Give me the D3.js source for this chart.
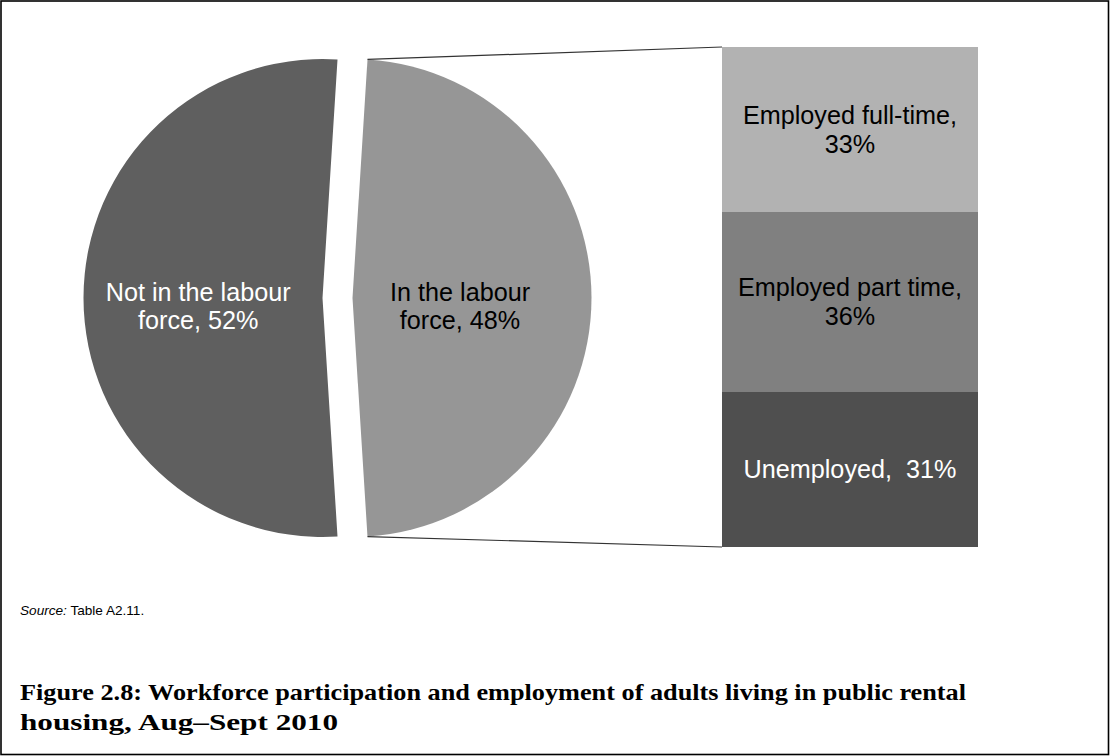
<!DOCTYPE html>
<html>
<head>
<meta charset="utf-8">
<script src="https://cdn.jsdelivr.net/npm/d3@7/dist/d3.min.js"></script>
<style>
  html, body { margin: 0; padding: 0; background: #fff; }
  svg { display: block; }
  text { white-space: pre; }
</style>
</head>
<body>
<svg id="chart" width="1110" height="756"></svg>
<script>
// Workforce participation (pie) and breakdown of the labour force (stacked bar)
const pieCategories = ["In the labour force", "Not in the labour force"];
const pieValues = [48, 52];
const pieLabelLines = [["In the labour", "force, 48%"], ["Not in the labour", "force, 52%"]];

const barCategories = ["Unemployed", "Employed part time", "Employed full-time"];
const barValues = [31, 36, 33];
const barLabelLines = [["Unemployed,  31%"], ["Employed part time,", "36%"], ["Employed full-time,", "33%"]];

const sourceItalic = "Source:";
const sourceText = " Table A2.11.";
const titleLines = [
  "Figure 2.8: Workforce participation and employment of adults living in public rental",
  "housing, Aug\u2013Sept 2010"
];

const svg = d3.select("#chart");
const W = 1110, H = 756;

// outer frame
svg.append("rect")
  .attr("x", 1).attr("y", 1).attr("width", W - 2.5).attr("height", H - 2.5)
  .attr("fill", "none").attr("stroke", "#000").attr("stroke-width", 1.6);

// ---- pie ----
const cx = 337.5, cy = 298, R = 239, explode = 15;
const pieColors = ["#969696", "#5f5f5f"];
const pieText = ["#000", "#fff"];
const labelFrac = [0.45, 0.52];
const labelFont = 25.2;

const firstShare = pieValues[0] / d3.sum(pieValues);
const start = Math.PI / 2 - firstShare * Math.PI;   // centre the first slice on the right
const pie = d3.pie().sort(null).startAngle(start).endAngle(start + 2 * Math.PI);
const arcs = pie(pieValues);
const arc = d3.arc().innerRadius(0).outerRadius(R);

const slices = svg.append("g").selectAll("g")
  .data(arcs).join("g")
  .attr("transform", d => {
    const mid = (d.startAngle + d.endAngle) / 2;
    return `translate(${cx + explode * Math.sin(mid)},${cy - explode * Math.cos(mid)})`;
  });

slices.append("path")
  .attr("d", arc)
  .attr("fill", (d, i) => pieColors[i]);

slices.append("text")
  .attr("font-family", "Liberation Sans, Arial, sans-serif")
  .attr("font-size", labelFont)
  .attr("text-anchor", "middle")
  .attr("fill", (d, i) => pieText[i])
  .each(function(d, i) {
    const mid = (d.startAngle + d.endAngle) / 2;
    const lx = R * labelFrac[i] * Math.sin(mid);
    const ly = -R * labelFrac[i] * Math.cos(mid);
    d3.select(this).selectAll("tspan")
      .data(pieLabelLines[i]).join("tspan")
      .attr("x", lx)
      .attr("y", (t, j) => ly + 2.5 + j * 28)
      .text(t => t);
  });

// ---- stacked bar ----
const barX0 = 722, barX1 = 978;
const y = d3.scaleLinear().domain([0, d3.sum(barValues)]).range([547, 47]);
const barColors = ["#4f4f4f", "#808080", "#b2b2b2"];
const barText = ["#fff", "#000", "#000"];
let cum = 0;
const segs = barValues.map((v, i) => { const s = { i, y0: cum, y1: cum + v }; cum += v; return s; });

const bar = svg.append("g");
bar.selectAll("rect").data(segs).join("rect")
  .attr("x", barX0).attr("width", barX1 - barX0)
  .attr("y", d => y(d.y1)).attr("height", d => y(d.y0) - y(d.y1))
  .attr("fill", d => barColors[d.i]);

bar.selectAll("text").data(segs).join("text")
  .attr("font-family", "Liberation Sans, Arial, sans-serif")
  .attr("font-size", labelFont)
  .attr("text-anchor", "middle")
  .attr("fill", d => barText[d.i])
  .each(function(d) {
    const lines = barLabelLines[d.i];
    const midY = (y(d.y0) + y(d.y1)) / 2;
    const lh = 29;
    const firstBase = midY + 8.5 - (lines.length - 1) * lh / 2;
    d3.select(this).selectAll("tspan").data(lines).join("tspan")
      .attr("x", (barX0 + barX1) / 2)
      .attr("y", (t, j) => firstBase + j * lh)
      .text(t => t);
  });

// ---- connector lines from the labour-force slice to the bar ----
const lf = arcs[0];
const lfCx = cx + explode * Math.sin((lf.startAngle + lf.endAngle) / 2);
const lfCy = cy - explode * Math.cos((lf.startAngle + lf.endAngle) / 2);
const corner = a => [lfCx + R * Math.sin(a), lfCy - R * Math.cos(a)];
const topC = corner(lf.startAngle), botC = corner(lf.endAngle);
svg.append("line")
  .attr("x1", topC[0]).attr("y1", topC[1]).attr("x2", barX0).attr("y2", y(d3.sum(barValues)))
  .attr("stroke", "#333").attr("stroke-width", 1.2);
svg.append("line")
  .attr("x1", botC[0]).attr("y1", botC[1]).attr("x2", barX0).attr("y2", y(0))
  .attr("stroke", "#333").attr("stroke-width", 1.2);

// ---- source note ----
const src = svg.append("text")
  .attr("x", 20).attr("y", 615)
  .attr("font-family", "Liberation Sans, Arial, sans-serif")
  .attr("font-size", 13.6).attr("fill", "#000");
src.append("tspan").attr("font-style", "italic").text(sourceItalic);
src.append("tspan").text(sourceText);

// ---- figure title ----
const title = svg.append("text")
  .attr("font-family", "Liberation Serif, Times New Roman, serif")
  .attr("font-weight", "bold")
  .attr("font-size", 22.5)
  .attr("fill", "#000");
const titleWidths = [946, 318];
titleLines.forEach((t, i) => {
  title.append("tspan")
    .attr("x", 20).attr("y", 700 + i * 30)
    .attr("textLength", titleWidths[i])
    .attr("lengthAdjust", "spacingAndGlyphs")
    .text(t);
});
</script>
</body>
</html>
